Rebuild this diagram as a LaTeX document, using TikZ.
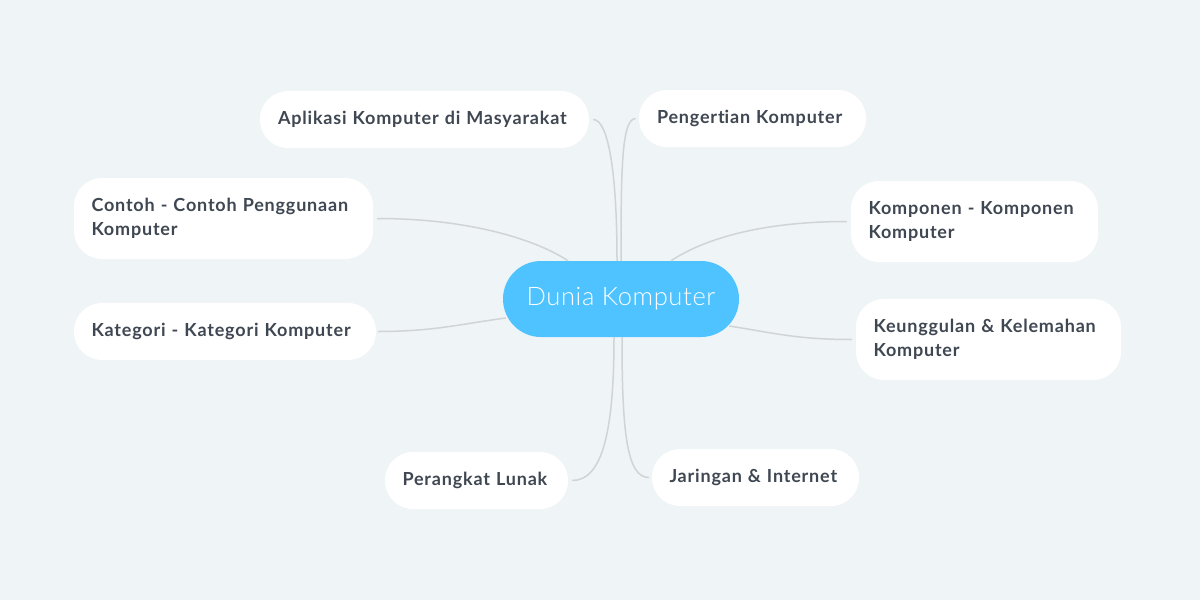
\documentclass[tikz,border=0pt]{standalone}
\usepackage{fontspec}
\setmainfont{Lato}[LetterSpace=4.5,Ligatures=NoCommon]
\IfFontExistsTF{Lato Light}{\newfontfamily\lightfont{Lato Light}[LetterSpace=2.5]}{\newfontfamily\lightfont{Lato}[LetterSpace=2.5]}
\usetikzlibrary{calc}
\definecolor{bgc}{HTML}{EFF4F7}
\definecolor{hubc}{HTML}{4FC3FF}
\definecolor{txtc}{HTML}{3F4752}
\definecolor{linec}{HTML}{D0D4D7}
\begin{document}
\begin{tikzpicture}[x=1pt,y=-1pt,
  topic/.style={fill=white, rounded corners=28pt, inner xsep=0pt, inner ysep=0pt,
    align=left, text=txtc, font=\fontsize{18}{24}\selectfont\bfseries},
  hub/.style={fill=hubc, rounded corners=38pt, minimum width=236pt, minimum height=76pt,
    text=white, font=\lightfont\fontsize{25.5}{28}\selectfont, inner sep=0pt},
  link/.style={draw=linec, line width=1.5pt}]
\fill[bgc] (0,0) rectangle (1200,600);
\useasboundingbox (0,0) rectangle (1200,600);

\node[hub] (c) at (621,299) {Dunia Komputer};

\node[topic, minimum width=329pt, minimum height=57pt, text width=293pt] (apl) at (424.5,119.5) {Aplikasi Komputer di Masyarakat};
\node[topic, minimum width=227pt, minimum height=57pt, text width=191pt] (pen) at (752.5,118.5) {Pengert\kern0pt ian Komputer};
\node[topic, minimum width=299pt, minimum height=81pt, text width=264pt] (con) at (223.5,218.5) {Contoh - Contoh Penggunaan\\Komputer};
\node[topic, minimum width=247pt, minimum height=81pt, text width=212pt] (kpn) at (974.5,221.5) {Komponen - Komponen\\Komputer};
\node[topic, minimum width=302pt, minimum height=57pt, text width=267pt] (kat) at (225,331.5) {Kategori - Kategori Komputer};
\node[topic, minimum width=265pt, minimum height=81pt, text width=230pt] (keu) at (988.5,339.5) {Keunggulan \& Kelemahan\\Komputer};
\node[topic, minimum width=183pt, minimum height=57pt, text width=148pt] (per) at (476.5,480.5) {Perangkat Lunak};
\node[topic, minimum width=207pt, minimum height=57pt, text width=172pt] (jar) at (755.5,477.5) {Jaringan \& Internet};

\draw[link] ($(apl.east)+(4,0)$) .. controls +(14,0) and +(0,-95) .. ($(c.north)+(-4,0)$);
\draw[link] ($(pen.west)+(-3,0)$) .. controls +(-14,0) and +(0,-95) .. ($(c.north)+(0,0)$);
\draw[link] ($(con.east)+(4,0)$) .. controls +(95,0) and +(-30,-20) .. ($(c.north)+(-53,0)$);
\draw[link] ($(kpn.west)+(-4,0)$) .. controls +(-90,0) and +(30,-20) .. ($(c.north)+(50,0)$);
\draw[link] ($(kat.east)+(2,0)$) .. controls +(55,0) and +(-45,6) .. ($(c.west)+(3,19)$);
\draw[link] ($(keu.west)+(-4,0)$) .. controls +(-55,0) and +(45,7) .. ($(c.east)+(-10,27)$);
\draw[link] ($(per.east)+(4,0)$) .. controls +(30,0) and +(0,95) .. ($(c.south)+(-7,0)$);
\draw[link] ($(jar.west)+(-3,0)$) .. controls +(-22,0) and +(0,95) .. ($(c.south)+(1,0)$);
\end{tikzpicture}
\end{document}
